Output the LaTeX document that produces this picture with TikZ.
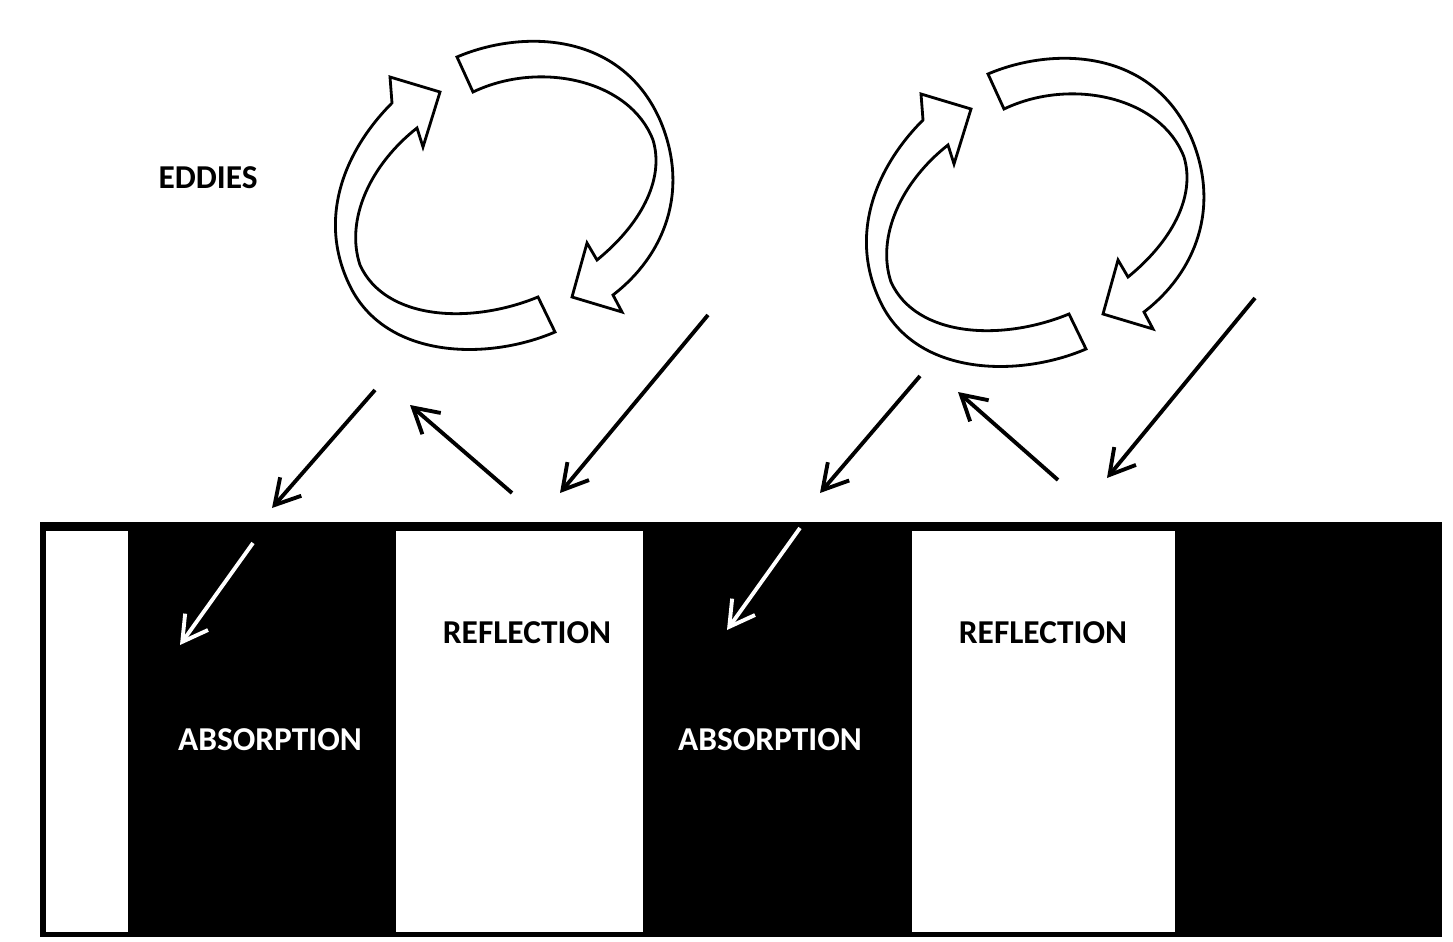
\documentclass[tikz,border=0pt]{standalone}
\usepackage{fontspec}
\setmainfont{Carlito}
\usetikzlibrary{arrows.meta}
\tikzset{
  flow/.style={line width=2.2pt,-{Straight Barb[length=14pt,width=16pt,line width=2.2pt]}},
  label/.style={font=\bfseries\fontsize{19}{22}\selectfont},
  swirl/.style={line width=1.6pt,fill=white,line join=miter}
}
\newcommand{\eddy}[2]{%
\begin{scope}[shift={(#1,#2)}]
% upper arrow, turning down on the right
\draw[swirl] (457,57) .. controls (520,30) and (620,30) .. (660,120)
  .. controls (690,190) and (665,255) .. (613,295) -- (622,312) -- (572,297)
  -- (587,243) -- (597,260) .. controls (640,225) and (665,180) .. (653,140)
  .. controls (630,80) and (540,60) .. (473,92) -- cycle;
% lower arrow, turning up on the left
\draw[swirl] (555,332) .. controls (490,360) and (390,360) .. (352,290)
  .. controls (315,220) and (345,150) .. (392,103) -- (390,77) -- (440,92)
  -- (423,147) -- (417,128) .. controls (370,165) and (345,220) .. (360,265)
  .. controls (385,320) and (470,325) .. (538,297) -- cycle;
\end{scope}}
\begin{document}
\begin{tikzpicture}[x=0.02cm,y=-0.02cm]
\useasboundingbox (0,0) rectangle (1453,942);

\node[label] (eddies) at (208,178) {EDDIES};
\eddy{0}{0}
\eddy{531}{17}

% surface strip
\fill[black] (40,522) rectangle (1442,937);
\fill[white] (46,531) rectangle (128,932);
\fill[white] (396,531) rectangle (643,932);
\fill[white] (912,531) rectangle (1175,932);

\node[label] (refl1) at (527,633) {REFLECTION};
\node[label] (refl2) at (1043,633) {REFLECTION};
\node[label,text=white] (abs1) at (270,740) {ABSORPTION};
\node[label,text=white] (abs2) at (770,740) {ABSORPTION};

% incoming and reflected rays
\coordinate (a1) at (375,390); \coordinate (b1) at (272,508);
\coordinate (a2) at (512,493); \coordinate (b2) at (410,405);
\coordinate (a3) at (708,315); \coordinate (b3) at (560,493);
\coordinate (a4) at (920,376); \coordinate (b4) at (820,493);
\coordinate (a5) at (1058,480); \coordinate (b5) at (958,392);
\coordinate (a6) at (1255,298); \coordinate (b6) at (1107,478);
\foreach \i in {1,...,6} \draw[flow] (a\i) -- (b\i);

\coordinate (w1) at (253,543); \coordinate (v1) at (180,645);
\coordinate (w2) at (800,528); \coordinate (v2) at (727,630);
\foreach \i in {1,2} \draw[flow,white] (w\i) -- (v\i);
\end{tikzpicture}
\end{document}
